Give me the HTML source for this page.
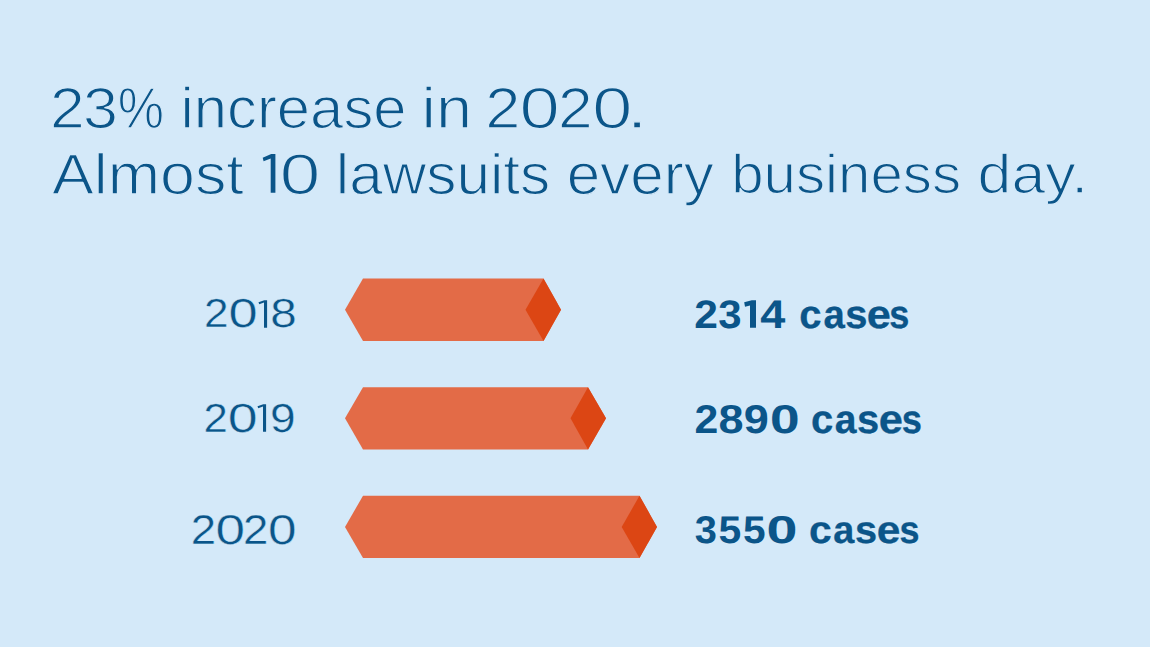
<!DOCTYPE html>
<html><head><meta charset="utf-8">
<style>
html,body{margin:0;padding:0;}
body{width:1150px;height:647px;overflow:hidden;background:#d4e9f9;}
svg{display:block;}
text{font-family:"Liberation Sans", sans-serif;fill:#0b5589;text-rendering:geometricPrecision;}
</style></head><body>
<svg width="1150" height="647" viewBox="0 0 1150 647">
<rect width="1150" height="647" fill="#d4e9f9"/>
<text x="49.95" y="127.65" font-size="57.82" stroke="#d4e9f9" stroke-width="1.3" stroke-linejoin="round" textLength="34.73" lengthAdjust="spacingAndGlyphs">2</text>
<text x="82.95" y="127.65" font-size="57.82" stroke="#d4e9f9" stroke-width="1.3" stroke-linejoin="round" textLength="34.93" lengthAdjust="spacingAndGlyphs">3</text>
<text x="117.87" y="127.65" font-size="57.82" stroke="#d4e9f9" stroke-width="1.3" stroke-linejoin="round" textLength="46.31" lengthAdjust="spacingAndGlyphs">%</text>
<text x="180.47" y="127.65" font-size="57.82" stroke="#d4e9f9" stroke-width="1.3" stroke-linejoin="round" textLength="226.09" lengthAdjust="spacingAndGlyphs">increase</text>
<text x="421.61" y="127.65" font-size="57.82" stroke="#d4e9f9" stroke-width="1.3" stroke-linejoin="round" textLength="50.45" lengthAdjust="spacingAndGlyphs">in</text>
<text x="485.34" y="127.65" font-size="57.82" stroke="#d4e9f9" stroke-width="1.3" stroke-linejoin="round" textLength="35.17" lengthAdjust="spacingAndGlyphs">2</text>
<text x="519.55" y="127.65" font-size="57.82" stroke="#d4e9f9" stroke-width="1.3" stroke-linejoin="round" textLength="40.20" lengthAdjust="spacingAndGlyphs">0</text>
<text x="558.07" y="127.65" font-size="57.82" stroke="#d4e9f9" stroke-width="1.3" stroke-linejoin="round" textLength="34.68" lengthAdjust="spacingAndGlyphs">2</text>
<text x="592.27" y="127.65" font-size="57.82" stroke="#d4e9f9" stroke-width="1.3" stroke-linejoin="round" textLength="40.07" lengthAdjust="spacingAndGlyphs">0</text>
<text x="626.26" y="127.65" font-size="57.82" stroke="#d4e9f9" stroke-width="1.3" stroke-linejoin="round" textLength="21.66" lengthAdjust="spacingAndGlyphs">.</text>
<text x="51.92" y="194.04" font-size="57.31" stroke="#d4e9f9" stroke-width="1.3" stroke-linejoin="round" textLength="191.83" lengthAdjust="spacingAndGlyphs">Almost</text>
<text x="279.77" y="194.04" font-size="57.31" stroke="#d4e9f9" stroke-width="1.3" stroke-linejoin="round" textLength="40.55" lengthAdjust="spacingAndGlyphs">0</text>
<text x="335.75" y="194.04" font-size="57.31" stroke="#d4e9f9" stroke-width="1.3" stroke-linejoin="round" textLength="214.49" lengthAdjust="spacingAndGlyphs">lawsuits</text>
<text x="566.65" y="194.04" font-size="57.31" stroke="#d4e9f9" stroke-width="1.3" stroke-linejoin="round" textLength="147.11" lengthAdjust="spacingAndGlyphs">every</text>
<text x="731.21" y="193.00" font-size="55.00" stroke="#d4e9f9" stroke-width="1.3" stroke-linejoin="round" textLength="229.84" lengthAdjust="spacingAndGlyphs">business</text>
<text x="977.64" y="193.00" font-size="55.00" stroke="#d4e9f9" stroke-width="1.3" stroke-linejoin="round" textLength="110.42" lengthAdjust="spacingAndGlyphs">day.</text>
<text x="204.03" y="327.48" font-size="40.41" stroke="#d4e9f9" stroke-width="0.4" stroke-linejoin="round" textLength="24.60" lengthAdjust="spacingAndGlyphs">2</text>
<text x="228.61" y="327.48" font-size="40.41" stroke="#d4e9f9" stroke-width="0.4" stroke-linejoin="round" textLength="29.15" lengthAdjust="spacingAndGlyphs">0</text>
<text x="270.33" y="327.48" font-size="40.41" stroke="#d4e9f9" stroke-width="0.4" stroke-linejoin="round" textLength="26.45" lengthAdjust="spacingAndGlyphs">8</text>
<text x="203.41" y="431.89" font-size="40.36" stroke="#d4e9f9" stroke-width="0.4" stroke-linejoin="round" textLength="24.29" lengthAdjust="spacingAndGlyphs">2</text>
<text x="227.88" y="431.89" font-size="40.36" stroke="#d4e9f9" stroke-width="0.4" stroke-linejoin="round" textLength="29.86" lengthAdjust="spacingAndGlyphs">0</text>
<text x="270.06" y="431.89" font-size="40.36" stroke="#d4e9f9" stroke-width="0.4" stroke-linejoin="round" textLength="25.64" lengthAdjust="spacingAndGlyphs">9</text>
<text x="190.75" y="543.75" font-size="41.40" stroke="#d4e9f9" stroke-width="0.4" stroke-linejoin="round" textLength="25.34" lengthAdjust="spacingAndGlyphs">2</text>
<text x="215.46" y="543.75" font-size="41.40" stroke="#d4e9f9" stroke-width="0.4" stroke-linejoin="round" textLength="29.54" lengthAdjust="spacingAndGlyphs">0</text>
<text x="242.99" y="543.75" font-size="41.40" stroke="#d4e9f9" stroke-width="0.4" stroke-linejoin="round" textLength="25.36" lengthAdjust="spacingAndGlyphs">2</text>
<text x="267.97" y="543.75" font-size="41.40" stroke="#d4e9f9" stroke-width="0.4" stroke-linejoin="round" textLength="28.55" lengthAdjust="spacingAndGlyphs">0</text>
<text x="694.31" y="327.75" font-size="39.89" font-weight="bold" textLength="23.68" lengthAdjust="spacingAndGlyphs">2</text>
<text x="718.37" y="327.75" font-size="39.89" font-weight="bold" textLength="23.33" lengthAdjust="spacingAndGlyphs">3</text>
<text x="760.34" y="327.75" font-size="39.89" font-weight="bold" textLength="25.09" lengthAdjust="spacingAndGlyphs">4</text>
<text x="799.24" y="327.75" font-size="39.89" font-weight="bold" stroke="#0b5589" stroke-width="0.3" stroke-linejoin="round" textLength="22.24" lengthAdjust="spacingAndGlyphs">c</text>
<text x="823.40" y="327.75" font-size="39.89" font-weight="bold" stroke="#0b5589" stroke-width="0.3" stroke-linejoin="round" textLength="21.33" lengthAdjust="spacingAndGlyphs">a</text>
<text x="845.34" y="327.75" font-size="39.89" font-weight="bold" stroke="#0b5589" stroke-width="0.3" stroke-linejoin="round" textLength="22.20" lengthAdjust="spacingAndGlyphs">s</text>
<text x="866.67" y="327.75" font-size="39.89" font-weight="bold" stroke="#0b5589" stroke-width="0.3" stroke-linejoin="round" textLength="24.07" lengthAdjust="spacingAndGlyphs">e</text>
<text x="889.37" y="327.75" font-size="39.89" font-weight="bold" stroke="#0b5589" stroke-width="0.3" stroke-linejoin="round" textLength="20.08" lengthAdjust="spacingAndGlyphs">s</text>
<text x="694.48" y="433.30" font-size="40.25" font-weight="bold" textLength="23.80" lengthAdjust="spacingAndGlyphs">2</text>
<text x="718.62" y="433.30" font-size="40.25" font-weight="bold" textLength="25.06" lengthAdjust="spacingAndGlyphs">8</text>
<text x="743.85" y="433.30" font-size="40.25" font-weight="bold" textLength="25.09" lengthAdjust="spacingAndGlyphs">9</text>
<text x="769.92" y="433.30" font-size="40.25" font-weight="bold" textLength="29.62" lengthAdjust="spacingAndGlyphs">0</text>
<text x="810.98" y="433.30" font-size="40.25" font-weight="bold" stroke="#0b5589" stroke-width="0.3" stroke-linejoin="round" textLength="22.29" lengthAdjust="spacingAndGlyphs">c</text>
<text x="834.82" y="433.30" font-size="40.25" font-weight="bold" stroke="#0b5589" stroke-width="0.3" stroke-linejoin="round" textLength="21.76" lengthAdjust="spacingAndGlyphs">a</text>
<text x="857.08" y="433.30" font-size="40.25" font-weight="bold" stroke="#0b5589" stroke-width="0.3" stroke-linejoin="round" textLength="22.17" lengthAdjust="spacingAndGlyphs">s</text>
<text x="878.73" y="433.30" font-size="40.25" font-weight="bold" stroke="#0b5589" stroke-width="0.3" stroke-linejoin="round" textLength="24.19" lengthAdjust="spacingAndGlyphs">e</text>
<text x="901.69" y="433.30" font-size="40.25" font-weight="bold" stroke="#0b5589" stroke-width="0.3" stroke-linejoin="round" textLength="20.21" lengthAdjust="spacingAndGlyphs">s</text>
<text x="694.72" y="542.67" font-size="38.61" font-weight="bold" textLength="22.17" lengthAdjust="spacingAndGlyphs">3</text>
<text x="718.46" y="542.67" font-size="38.61" font-weight="bold" textLength="22.76" lengthAdjust="spacingAndGlyphs">5</text>
<text x="743.00" y="542.67" font-size="38.61" font-weight="bold" textLength="22.62" lengthAdjust="spacingAndGlyphs">5</text>
<text x="766.40" y="542.67" font-size="38.61" font-weight="bold" textLength="30.93" lengthAdjust="spacingAndGlyphs">0</text>
<text x="808.92" y="542.67" font-size="38.61" font-weight="bold" stroke="#0b5589" stroke-width="0.3" stroke-linejoin="round" textLength="22.71" lengthAdjust="spacingAndGlyphs">c</text>
<text x="833.26" y="542.67" font-size="38.61" font-weight="bold" stroke="#0b5589" stroke-width="0.3" stroke-linejoin="round" textLength="21.04" lengthAdjust="spacingAndGlyphs">a</text>
<text x="854.92" y="542.67" font-size="38.61" font-weight="bold" stroke="#0b5589" stroke-width="0.3" stroke-linejoin="round" textLength="22.12" lengthAdjust="spacingAndGlyphs">s</text>
<text x="876.66" y="542.67" font-size="38.61" font-weight="bold" stroke="#0b5589" stroke-width="0.3" stroke-linejoin="round" textLength="23.65" lengthAdjust="spacingAndGlyphs">e</text>
<text x="899.57" y="542.67" font-size="38.61" font-weight="bold" stroke="#0b5589" stroke-width="0.3" stroke-linejoin="round" textLength="20.00" lengthAdjust="spacingAndGlyphs">s</text>
<g fill="#e36b47">
<polygon points="345,309.75 363,278.5 543.5,278.5 561,309.75 543.5,341 363,341"/>
<polygon points="345,418.35 363,387.2 588,387.2 606,418.35 588,449.5 363,449.5"/>
<polygon points="345,526.9 363,495.8 639.5,495.8 657,526.9 639.5,558 363,558"/>
</g>
<g fill="#dc4614">
<polygon points="525.5,309.75 543.5,278.5 561,309.75 543.5,341"/>
<polygon points="570.5,418.35 588,387.2 606,418.35 588,449.5"/>
<polygon points="621.7,526.9 639.5,495.8 657,526.9 639.5,558"/>
</g>
<path class="glyph" fill="#0b5589" d="M744.2,302.2 L751.8,300.2 L756,300.2 L756,327.8 L750,327.8 L750,305.45 L745,306.8 Z"/>
<path class="glyph" fill="#0b5589" d="M258.5,302.3 L264.3,300.2 L267.1,300.2 L267.1,327.8 L264,327.8 L264,302.6 L259.2,304.3 Z"/>
<path class="glyph" fill="#0b5589" transform="translate(-1,104)" d="M258.5,302.3 L264.3,300.2 L267.1,300.2 L267.1,327.8 L264,327.8 L264,302.6 L259.2,304.3 Z"/>
<path class="glyph" fill="#0b5589" d="M262.7,157.8 L271.2,153.9 L275.4,153.9 L275.4,192.8 L270.7,192.8 L270.7,158.6 L263.6,161.2 Z"/>

</svg>
</body></html>
